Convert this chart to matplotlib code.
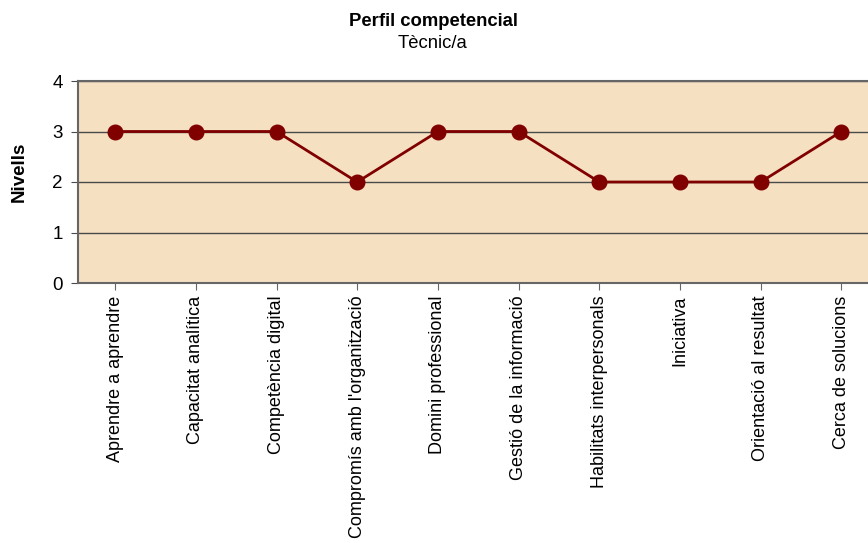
import matplotlib.pyplot as plt

plt.rcParams['font.family'] = ['Liberation Sans', 'DejaVu Sans']

competencies = [
    "Aprendre a aprendre",
    "Capacitat analítica",
    "Competència digital",
    "Compromís amb l'organització",
    "Domini professional",
    "Gestió de la informació",
    "Habilitats interpersonals",
    "Iniciativa",
    "Orientació al resultat",
    "Cerca de solucions",
]
levels = [3, 3, 3, 2, 3, 3, 2, 2, 2, 3]

fig = plt.figure(figsize=(8.68, 5.43), dpi=100)
ax = fig.add_axes([78 / 868, 1 - 283 / 543, 1 - 78 / 868, (283 - 81) / 543])
ax.set_facecolor("#F5E0C2")

x = range(len(competencies))
ax.plot(x, levels, color="#800000", linewidth=2, marker="o",
        markersize=10.5, markerfacecolor="#800000", markeredgecolor="#800000",
        zorder=3)

ax.set_ylim(0, 4)
ax.set_xlim(-0.46, 9.33)
ax.set_yticks([0, 1, 2, 3, 4])
ax.yaxis.grid(True, color="#4a4a4a", linewidth=1)
ax.set_axisbelow(True)

ax.set_xticks(list(x))
ax.set_xticklabels(competencies, rotation=90, fontsize=13)
ax.tick_params(axis="y", length=5, color="#4a4a4a", labelsize=13.5, pad=6)
ax.tick_params(axis="x", length=5, color="#666666", pad=4)

for side in ["left", "bottom", "top"]:
    ax.spines[side].set_color("#666666")
    ax.spines[side].set_linewidth(1.5)
ax.spines["right"].set_visible(False)

ax.set_ylabel("Nivells", fontsize=13.5, fontweight="bold")
ax.yaxis.set_label_coords(-50 / 790, (283 - 172) / 202)

fig.text(433 / 868, 1 - 21 / 543, "Perfil competencial", ha="center",
         va="center", fontsize=13.3, fontweight="bold")
fig.text(433 / 868, 1 - 44 / 543, "Tècnic/a", ha="center", va="center",
         fontsize=13.3)

fig.savefig("out.png", dpi=100)
